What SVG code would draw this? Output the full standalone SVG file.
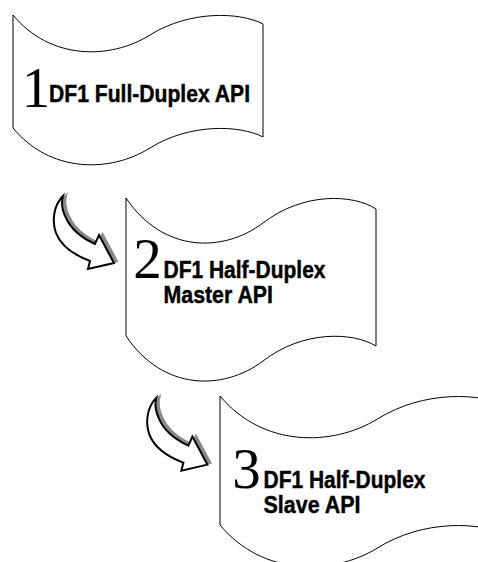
<svg xmlns="http://www.w3.org/2000/svg" xmlns:xlink="http://www.w3.org/1999/xlink" width="478" height="562" viewBox="0 0 478 562">
<style>
.flag{fill:#fff;stroke:#000;stroke-width:1}
.num{font-family:"Liberation Serif","Times New Roman",serif;font-size:57px;fill:#000;text-anchor:middle}
.lbl{font-family:"Liberation Sans",Arial,sans-serif;font-weight:bold;font-size:24.5px;fill:#000;stroke:#000;stroke-width:0.45}
.arrow{fill:#fff;stroke:#000;stroke-width:2;stroke-linejoin:miter}
.shadow{fill:#8a8a8a;stroke:#8a8a8a;stroke-width:1.5}
</style>
<defs>
<path id="arrowShape" d="M63,196 C53,206 52,222 56,233 C61,246 74,255 90,261 L88,269 L114,263 L99,235 L95,244 C82,238 71,229 66,218 C62,210 61,203 63,196 Z"/>
</defs>
<rect width="478" height="562" fill="#fff"/>
<g id="node1">
<path class="flag" d="M13,15 C50,60 110,60 150,35 C190,10 240,12 263,24 L263,137 C240,125 190,123 150,148 C110,173 50,173 13,128 Z"/>
<text class="num" x="36" y="107">1</text>
<text class="lbl" x="49" y="102" textLength="201" lengthAdjust="spacingAndGlyphs">DF1 Full-Duplex API</text>
</g>
<g id="node2">
<path class="flag" d="M126,198 C163,253 223,253 263,223 C303,192 353,194 376,209 L376,346 C353,332 303,330 263,361 C223,391 163,391 126,336 Z"/>
<text class="num" x="147.5" y="278">2</text>
<text class="lbl" x="163.5" y="278" textLength="162" lengthAdjust="spacingAndGlyphs">DF1 Half-Duplex</text>
<text class="lbl" x="163.5" y="303" textLength="109.5" lengthAdjust="spacingAndGlyphs">Master API</text>
</g>
<g id="node3">
<path class="flag" d="M220,396 C262.5,447 331.5,447 377.5,419 C423.5,390 481,393 507.5,406 L507.5,535 C481,522 423.5,519 377.5,548 C331.5,576 262.5,576 220,525 Z"/>
<text class="num" x="246.5" y="488">3</text>
<text class="lbl" x="263.5" y="488" textLength="162" lengthAdjust="spacingAndGlyphs">DF1 Half-Duplex</text>
<text class="lbl" x="263.5" y="513" textLength="97" lengthAdjust="spacingAndGlyphs">Slave API</text>
</g>
<g id="connectors">
<g id="arrow1">
<use xlink:href="#arrowShape" class="shadow" transform="translate(3.5,-1.5)"/>
<use xlink:href="#arrowShape" class="arrow"/>
</g>
<g id="arrow2" transform="translate(93.4,201.6)">
<use xlink:href="#arrowShape" class="shadow" transform="translate(3.5,-1.5)"/>
<use xlink:href="#arrowShape" class="arrow"/>
</g>
</g>
</svg>
